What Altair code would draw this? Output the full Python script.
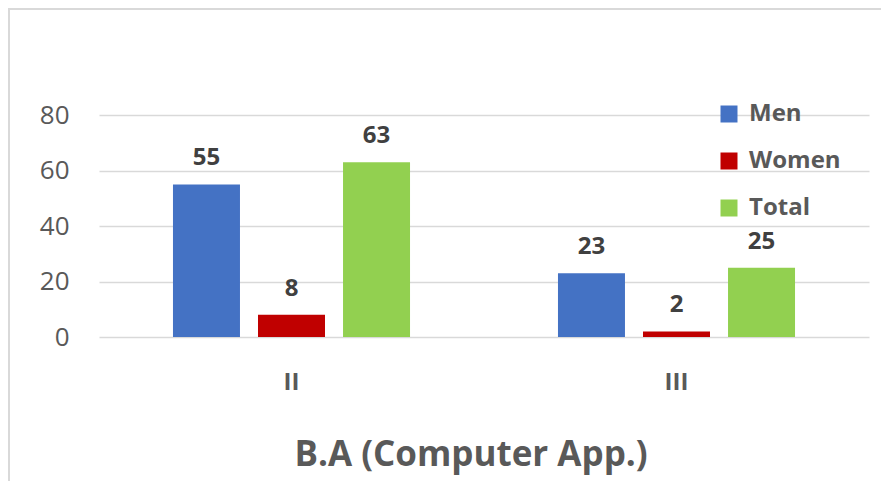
import altair as alt
import pandas as pd

years = ["II", "III"]
men = [55, 23]
women = [8, 2]
total = [63, 25]
series = ["Men", "Women", "Total"]
colors = ["#4472C4", "#C00000", "#92D050"]

rows = []
for i, y in enumerate(years):
    rows.append({"year": y, "series": "Men", "value": men[i]})
    rows.append({"year": y, "series": "Women", "value": women[i]})
    rows.append({"year": y, "series": "Total", "value": total[i]})
df = pd.DataFrame(rows)

FONT = "Open Sans"
GRAY = "#595959"

x_enc = alt.X("year:N", sort=years,
              scale=alt.Scale(paddingInner=0, paddingOuter=0),
              axis=alt.Axis(title=None, labelAngle=0, ticks=False, domain=False,
                            labelFont=FONT, labelFontSize=24, labelFontWeight="bold",
                            labelColor=GRAY, labelPadding=33))
xo_enc = alt.XOffset("series:N", sort=series,
                     scale=alt.Scale(paddingInner=0.212, paddingOuter=0.87))
y_enc = alt.Y("value:Q",
              scale=alt.Scale(domain=[0, 80], nice=False),
              axis=alt.Axis(title=None, values=[0, 20, 40, 60, 80], ticks=False, domain=False,
                            grid=True, gridColor="#D9D9D9", gridWidth=1.5,
                            labelFont=FONT, labelFontSize=26, labelColor=GRAY,
                            labelPadding=30))

base = alt.Chart(df)

bars = base.mark_bar().encode(
    x=x_enc, xOffset=xo_enc, y=y_enc,
    color=alt.Color("series:N", sort=series,
                    scale=alt.Scale(domain=series, range=colors),
                    legend=alt.Legend(title=None, orient="none", legendX=618, legendY=-13,
                                      symbolType="square", symbolSize=289, symbolStrokeWidth=0,
                                      labelFont=FONT, labelFontSize=24, labelFontWeight="bold",
                                      labelColor=GRAY, labelOffset=8, rowPadding=23)),
)

labels = base.mark_text(font=FONT, fontSize=24, fontWeight="bold", color="#404040",
                        baseline="alphabetic", dy=-19).encode(
    x=x_enc, xOffset=xo_enc, y=y_enc, text="value:Q",
)

frame = alt.Chart(pd.DataFrame({"a": [0]})).mark_rect(
    fill=None, stroke="#D9D9D9", strokeWidth=2
).encode(x=alt.value(-90), x2=alt.value(800), y=alt.value(-106), y2=alt.value(370))

chart = alt.layer(frame, bars, labels).properties(
    width=770, height=222,
    title=alt.TitleParams("B.A (Computer App.)", orient="bottom", font=FONT, fontSize=35,
                          fontWeight="bold", color=GRAY, offset=-48, dx=-13),
    autosize=alt.AutoSizeParams(type="none"),
    padding={"left": 91, "top": 107, "right": 12, "bottom": 144},
).configure_view(stroke=None)

chart.save("out.html", embed_options={"renderer": "svg", "actions": False})
